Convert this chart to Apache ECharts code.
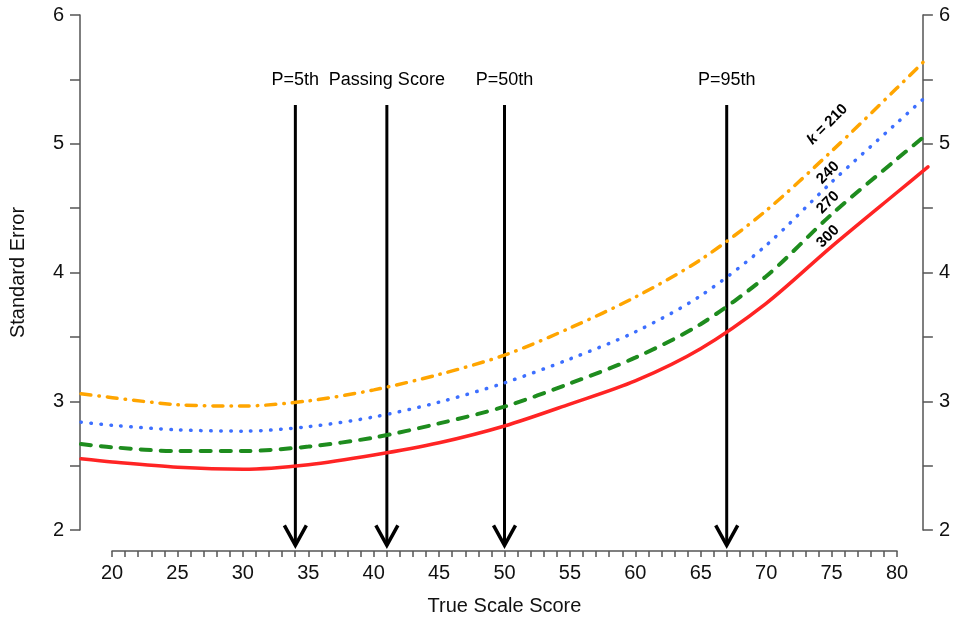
<!DOCTYPE html>
<html>
<head>
<meta charset="utf-8">
<script src="https://cdn.jsdelivr.net/npm/echarts@6/dist/echarts.min.js"></script>
<style>
    html, body { margin: 0; padding: 0; background: #fff; }
    #se-chart { width: 953px; height: 620px; }
</style>
</head>
<body>
<div id="se-chart"></div>
<script>
// true scale score (x) and standard error for each k
let scores = [17.6, 20, 25, 30, 35, 40, 45, 50, 55, 60, 65, 70, 75, 80, 82.4];
let se210 = [3.06, 3.03, 2.975, 2.965, 3.005, 3.09, 3.21, 3.36, 3.57, 3.81, 4.10, 4.48, 4.94, 5.43, 5.67];
let se240 = [2.84, 2.815, 2.78, 2.77, 2.805, 2.88, 2.995, 3.145, 3.33, 3.54, 3.82, 4.21, 4.70, 5.16, 5.38];
let se270 = [2.67, 2.645, 2.615, 2.615, 2.65, 2.72, 2.83, 2.96, 3.14, 3.34, 3.60, 3.97, 4.45, 4.88, 5.08];
let se300 = [2.555, 2.53, 2.49, 2.475, 2.51, 2.585, 2.68, 2.81, 2.98, 3.16, 3.41, 3.76, 4.20, 4.62, 4.82];

// reference arrows
let arrowNames = ['P=5th', 'Passing Score', 'P=50th', 'P=95th'];
let arrowX = [34, 41, 50, 67];
let arrowTop = 5.30;
let arrowTip = 1.883;

// curve labels
let curveNames = ['{i|k} = 210', '240', '270', '300'];
let curveLabelX = [74.7, 74.75, 74.75, 74.75];
let curveLabelY = [5.15, 4.775, 4.545, 4.28];

// axis ticks
let yTickMin = 2, yTickMax = 6, yTickStep = 0.5;
let xTickMin = 20, xTickMax = 80, xTickStep = 1;

let FONT = '"Liberation Sans", Arial, sans-serif';

let chart = echarts.init(document.getElementById('se-chart'));
chart.setOption(getOption());

function pairs(ys) {
    return scores.map(function (x, i) { return [x, ys[i]]; });
}

function getOption() {
    let axisLine = { show: true, lineStyle: { color: '#555', width: 1.5 } };

    let curve = function (name, ys, color, type, width) {
        return {
            name: name,
            type: 'line',
            xAxisIndex: 0,
            yAxisIndex: 0,
            data: pairs(ys),
            smooth: 0.3,
            symbol: 'none',
            silent: true,
            lineStyle: { color: color, width: width, type: type, cap: 'round' }
        };
    };

    return {
        animation: false,
        backgroundColor: '#fff',
        grid: [
            // data area (R style, 4% padding)
            { left: 81, right: 25, top: 2, bottom: 69 },
            // y axes (2..6)
            { left: 80, right: 25, top: 15, bottom: 90 },
            // x axis (20..80)
            { left: 112, right: 56, top: 400, bottom: 69 }
        ],
        xAxis: [
            { gridIndex: 0, type: 'value', min: 17.6, max: 82.4, show: false },
            { gridIndex: 1, type: 'value', min: 0, max: 1, show: false },
            {
                gridIndex: 2, type: 'value', min: xTickMin, max: xTickMax, interval: xTickStep,
                position: 'bottom',
                axisLine: axisLine,
                axisTick: { show: true, length: 6, lineStyle: { color: '#555', width: 1.5 } },
                splitLine: { show: false },
                axisLabel: {
                    margin: 12, color: '#111', fontSize: 20, fontFamily: FONT,
                    formatter: function (v) { return v % 5 === 0 ? String(v) : ''; }
                },
                name: 'True Scale Score',
                nameLocation: 'middle',
                nameGap: 45,
                nameTextStyle: { color: '#111', fontSize: 20, fontFamily: FONT }
            }
        ],
        yAxis: [
            { gridIndex: 0, type: 'value', min: 1.84, max: 6.1, show: false },
            {
                gridIndex: 1, type: 'value', min: yTickMin, max: yTickMax, interval: yTickStep,
                position: 'left',
                axisLine: axisLine,
                axisTick: { show: true, length: 10, lineStyle: { color: '#555', width: 1.5 } },
                splitLine: { show: false },
                axisLabel: {
                    margin: 16, color: '#111', fontSize: 20, fontFamily: FONT,
                    formatter: function (v) { return Number.isInteger(v) ? String(v) : ''; }
                },
                name: 'Standard Error',
                nameLocation: 'middle',
                nameGap: 52,
                nameTextStyle: { color: '#111', fontSize: 20, fontFamily: FONT }
            },
            {
                gridIndex: 1, type: 'value', min: yTickMin, max: yTickMax, interval: yTickStep,
                position: 'right',
                axisLine: axisLine,
                axisTick: { show: true, length: 10, lineStyle: { color: '#555', width: 1.5 } },
                splitLine: { show: false },
                axisLabel: {
                    margin: 16, color: '#111', fontSize: 20, fontFamily: FONT,
                    formatter: function (v) { return Number.isInteger(v) ? String(v) : ''; }
                }
            },
            { gridIndex: 2, type: 'value', min: 0, max: 1, show: false }
        ],
        series: [
            curve('k = 210', se210, '#FFA500', [10, 8, 0.5, 8], 3.5),
            curve('k = 240', se240, '#3D6FFF', [0.5, 9.5], 3.5),
            curve('k = 270', se270, '#1E8C1E', [10, 10], 4),
            curve('k = 300', se300, '#FF2424', 'solid', 3.5),
            {
                // arrows with their captions
                type: 'custom',
                xAxisIndex: 0,
                yAxisIndex: 0,
                silent: true,
                data: arrowX.map(function (x, i) { return [x, arrowTop, arrowTip, i]; }),
                renderItem: function (params, api) {
                    let top = api.coord([api.value(0), api.value(1)]);
                    let tip = api.coord([api.value(0), api.value(2)]);
                    let name = arrowNames[api.value(3)];
                    return {
                        type: 'group',
                        children: [
                            {
                                type: 'line',
                                shape: { x1: top[0], y1: top[1], x2: tip[0], y2: tip[1] },
                                style: { stroke: '#000', lineWidth: 3 }
                            },
                            {
                                type: 'polyline',
                                shape: { points: [[tip[0] - 11, tip[1] - 20], [tip[0], tip[1]], [tip[0] + 11, tip[1] - 20]] },
                                style: { stroke: '#000', fill: null, lineWidth: 3.5 }
                            },
                            {
                                type: 'text',
                                x: top[0],
                                y: top[1] - 25,
                                style: {
                                    text: name, fill: '#000', fontSize: 18, fontFamily: FONT,
                                    align: 'center', verticalAlign: 'middle'
                                }
                            }
                        ]
                    };
                }
            },
            {
                // k labels beside the curves
                type: 'custom',
                xAxisIndex: 0,
                yAxisIndex: 0,
                silent: true,
                data: curveNames.map(function (n, i) { return [curveLabelX[i], curveLabelY[i], i]; }),
                renderItem: function (params, api) {
                    let p = api.coord([api.value(0), api.value(1)]);
                    return {
                        type: 'text',
                        x: p[0],
                        y: p[1],
                        rotation: Math.PI / 4,
                        style: {
                            text: curveNames[api.value(2)],
                            fill: '#000',
                            fontSize: 15,
                            fontWeight: 'bold',
                            fontFamily: FONT,
                            align: 'center',
                            verticalAlign: 'middle',
                            rich: {
                                i: { fontStyle: 'italic', fontWeight: 'bold', fontSize: 15, fontFamily: FONT, fill: '#000' }
                            }
                        }
                    };
                }
            }
        ]
    };
}
</script>
</body>
</html>
